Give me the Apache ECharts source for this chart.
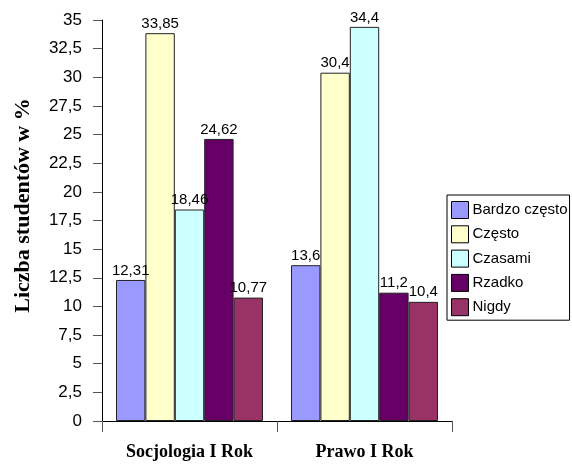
<!DOCTYPE html>
<html><head><meta charset="utf-8">
<script src="https://cdn.jsdelivr.net/npm/echarts@6/dist/echarts.min.js"></script>
<style>html,body{margin:0;padding:0;background:#fff}#c{width:572px;height:464px}</style>
</head><body><div id="c"></div>
<script>
const categories = ['Socjologia I Rok', 'Prawo I Rok'];
const seriesNames = ['Bardzo często', 'Często', 'Czasami', 'Rzadko', 'Nigdy'];
const bardzoCzesto = [12.31, 13.6];
const czesto = [33.85, 30.4];
const czasami = [18.46, 34.4];
const rzadko = [24.62, 11.2];
const nigdy = [10.77, 10.4];
const colors = ['#9999FF', '#FFFFCC', '#CCFFFF', '#660066', '#993366'];
const values = [bardzoCzesto, czesto, czasami, rzadko, nigdy];
const yTitle = 'Liczba studentów w %';

const fmt = v => String(v).replace('.', ',');
const chart = echarts.init(document.getElementById('c'));
chart.setOption({
  animation: false,
  textStyle: {fontFamily: 'Liberation Sans'},
  grid: {left: 102, top: 20, right: 120, bottom: 43, containLabel: false, outerBoundsMode: 'none'},
  legend: {
    orient: 'vertical', left: 447, top: 195,
    padding: [6, 2, 4, 4], itemGap: 6.3, itemWidth: 17, itemHeight: 17,
    borderColor: '#000', borderWidth: 1, itemStyle: {borderColor:'#000', borderWidth:1},
    textStyle: {fontSize: 15, color: '#000', fontFamily: 'Liberation Sans', padding: [0,0,0,-1]},
    icon: 'rect',
    data: seriesNames
  },
  xAxis: {
    type: 'category', data: categories,
    axisLine: {lineStyle: {color: '#000', width: 1}},
    axisTick: {show: true, length: 11, lineStyle: {color: '#555'}},
    axisLabel: {fontFamily: 'Liberation Serif', fontWeight: 'bold', fontSize: 18, color: '#000', margin: 22}
  },
  yAxis: {
    type: 'value', min: 0, max: 35, interval: 2.5,
    name: yTitle, nameLocation: 'middle', nameGap: 68, nameRotate: 90,
    nameTextStyle: {fontFamily: 'Liberation Serif', fontWeight: 'bold', fontSize: 22, color: '#000', padding:[0,0,0,30]},
    axisLine: {show: true, lineStyle: {color: '#000', width: 1}},
    axisTick: {show: true, length: 9, lineStyle: {color: '#555'}},
    splitLine: {show: false},
    axisLabel: {fontSize: 17, color: '#000', margin: 20, formatter: v => fmt(v)}
  },
  series: seriesNames.map((n, i) => ({
    name: n, type: 'bar', data: values[i],
    barGap: '0%', barCategoryGap: '16%',
    itemStyle: {color: colors[i], borderColor: '#222', borderWidth: 1},
    label: {show: true, position: 'top', distance: 2, fontSize: 15, color: '#000',
      formatter: p => fmt(p.value)}
  }))
});
</script></body></html>
